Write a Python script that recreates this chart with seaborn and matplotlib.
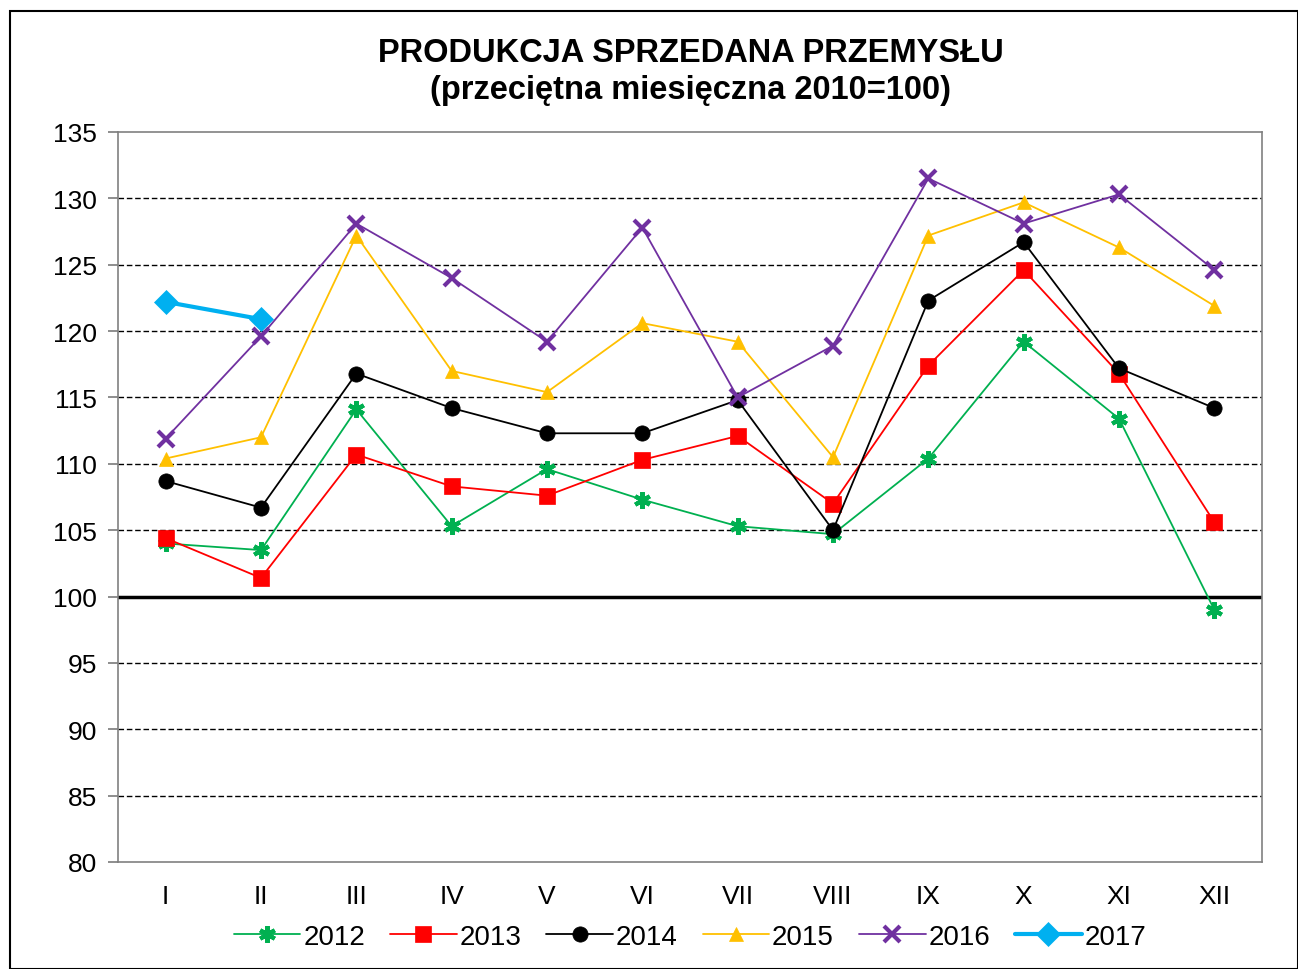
import matplotlib
matplotlib.use("Agg")
import matplotlib.pyplot as plt
import seaborn as sns
import pandas as pd
import numpy as np
from matplotlib.patches import Rectangle

months = ["I", "II", "III", "IV", "V", "VI", "VII", "VIII", "IX", "X", "XI", "XII"]
y2012 = [104.0, 103.5, 114.1, 105.3, 109.6, 107.3, 105.3, 104.7, 110.4, 119.2, 113.4, 99.0]
y2013 = [104.4, 101.4, 110.7, 108.3, 107.6, 110.3, 112.1, 107.0, 117.4, 124.6, 116.8, 105.6]
y2014 = [108.7, 106.7, 116.8, 114.2, 112.3, 112.3, 114.8, 105.0, 122.3, 126.7, 117.2, 114.2]
y2015 = [110.4, 112.0, 127.2, 117.0, 115.4, 120.6, 119.2, 110.5, 127.2, 129.7, 126.3, 121.9]
y2016 = [111.9, 119.6, 128.1, 124.0, 119.2, 127.8, 115.0, 118.9, 131.5, 128.1, 130.3, 124.6]
y2017 = [122.2, 120.9]

series = {"2012": y2012, "2013": y2013, "2014": y2014, "2015": y2015, "2016": y2016, "2017": y2017}
colors = {"2012": "#00b050", "2013": "#ff0000", "2014": "#000000",
          "2015": "#ffc000", "2016": "#7030a0", "2017": "#00b0f0"}
markers = {"2012": (6, 2, 0), "2013": "s", "2014": "o", "2015": "^", "2016": "x", "2017": "D"}
msizes = {"2012": 12, "2013": 11, "2014": 11, "2015": 10, "2016": 12, "2017": 12}
lwidths = {"2012": 1.3, "2013": 1.3, "2014": 1.3, "2015": 1.3, "2016": 1.3, "2017": 3}

rows = []
for name, vals in series.items():
    for i, v in enumerate(vals):
        rows.append({"year": name, "x": i, "value": v})
df = pd.DataFrame(rows)

sns.set_theme(style="white")
plt.rcParams["font.family"] = ["Liberation Sans", "DejaVu Sans"]
plt.rcParams["text.color"] = "black"
plt.rcParams["xtick.color"] = "black"
plt.rcParams["ytick.color"] = "black"

fig = plt.figure(figsize=(12.98, 9.70), dpi=100)
ax = fig.add_axes([118/1298, 1-863/970, (1262-118)/1298, (863-133)/970])

for name in series:
    sub = df[df["year"] == name]
    mk = markers[name]
    kw = dict(markeredgewidth=3 if name in ("2012", "2016") else 0.5)
    sns.lineplot(data=sub, x="x", y="value", ax=ax, color=colors[name], marker=mk,
                 markersize=msizes[name], linewidth=lwidths[name], label=name,
                 markeredgecolor=colors[name], estimator=None, **kw)

ax.set_xlim(-0.5, 11.5)
ax.set_ylim(80, 135)
ax.set_yticks(np.arange(80, 136, 5))
ax.set_xticks(range(12))
ax.set_xticklabels(months)
ax.set_xticks(np.arange(-0.5, 12, 1), minor=True)
ax.tick_params(axis="x", which="major", length=0, labelsize=19, pad=16)
ax.tick_params(axis="x", which="minor", length=5, color="#808080", direction="out")
ax.tick_params(axis="y", length=7, color="#808080", direction="out", labelsize=19,
               left=True, pad=8)
ax.set_xlabel("")
ax.set_ylabel("")
for y in np.arange(85, 135, 5):
    if y == 100:
        ax.axhline(y, color="black", linewidth=2.5, zorder=1)
    else:
        ax.axhline(y, color="black", linewidth=1, linestyle=(0, (4, 2)), zorder=1)
for s in ax.spines.values():
    s.set_color("#808080")
    s.set_linewidth(1.2)

fig.text(0.532, 1-53/970, "PRODUKCJA SPRZEDANA PRZEMYSŁU", ha="center", va="center",
         fontsize=23.5, fontweight="bold", color="black")
fig.text(0.532, 1-91/970, "(przeciętna miesięczna 2010=100)", ha="center", va="center",
         fontsize=23.5, fontweight="bold", color="black")

leg = ax.legend(loc="center", bbox_to_anchor=(0.5, -0.103), ncol=6, frameon=False,
                fontsize=20, handlelength=2.4, handletextpad=0.1, columnspacing=0.9)

fig.patches.append(Rectangle((10/1298, 0), 1 - 10/1298, 1 - 12/970, transform=fig.transFigure,
                             fill=False, edgecolor="black", linewidth=1.5))

fig.savefig("out.png", dpi=100)
